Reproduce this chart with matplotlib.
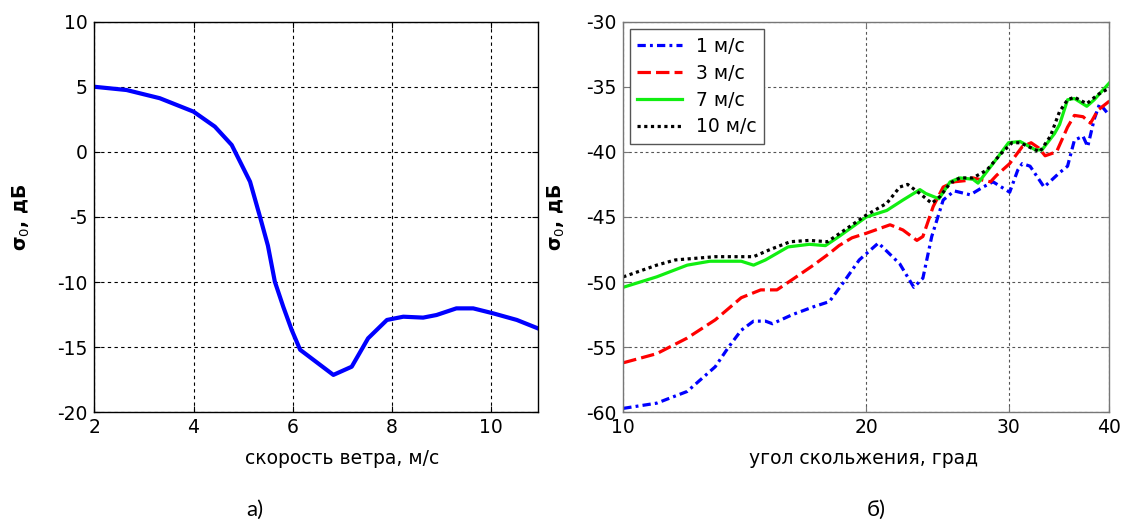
import matplotlib
matplotlib.use("Agg")
import matplotlib.pyplot as plt
from matplotlib.ticker import FixedLocator, NullLocator

plt.rcParams['font.family'] = ['DejaVu Sans']
plt.rcParams['axes.unicode_minus'] = False

# а) зависимость от скорости ветра
wind = [2.0, 2.65, 3.32, 4.0, 4.43, 4.77, 5.14, 5.34, 5.5, 5.64, 5.81, 5.98, 6.15,
        6.82, 7.19, 7.52, 7.9, 8.23, 8.63, 8.9, 9.3, 9.64, 10.04, 10.52, 10.94]
sigma_wind = [5.0, 4.75, 4.12, 3.09, 1.94, 0.53, -2.29, -4.98, -7.2, -9.97, -11.9, -13.68, -15.2,
              -17.13, -16.5, -14.32, -12.91, -12.66, -12.73, -12.53, -12.02, -12.02, -12.4, -12.91, -13.55]

# б) зависимость от угла скольжения
angle_1 = [10, 11, 12, 13, 13.5, 14, 14.5, 15, 15.3, 16.2, 17.2, 18.0, 18.7, 19.6, 20.7, 22.0,
           22.9, 23.5, 24.1, 24.9, 25.7, 26.9, 27.9, 28.7, 30.1, 30.8, 31.2, 31.9, 33.2, 34.7,
           35.5, 36.2, 37.1, 37.6, 38.3, 38.9, 40]
sigma_1 = [-59.7, -59.3, -58.4, -56.5, -55.0, -53.7, -53.0, -53.0, -53.2, -52.5, -51.9, -51.5,
           -50.1, -48.3, -47.0, -48.6, -50.4, -49.7, -46.5, -43.7, -43.0, -43.3, -42.7, -42.3,
           -43.1, -41.4, -40.9, -41.1, -42.7, -41.6, -41.1, -39.1, -38.8, -39.6, -37.5, -36.3, -37.2]

angle_3 = [10, 11, 12, 13, 14, 14.8, 15.5, 16.2, 17.2, 18.0, 18.5, 19.2, 20.0, 21.4, 22.2, 23.1,
           23.5, 24.2, 24.9, 25.7, 26.6, 27.1, 28.5, 29.0, 30.1, 31.2, 32.0, 32.7, 33.3, 34.4,
           35.5, 36.2, 37.1, 37.9, 38.7, 40]
sigma_3 = [-56.2, -55.5, -54.3, -52.9, -51.2, -50.6, -50.6, -49.8, -48.7, -47.8, -47.2, -46.6,
           -46.25, -45.6, -46.0, -46.8, -46.5, -44.2, -42.7, -42.3, -42.2, -42.0, -42.3, -41.8,
           -40.9, -39.6, -39.3, -39.7, -40.3, -40.0, -38.1, -37.2, -37.3, -37.8, -36.8, -36.1]

angle_7 = [10, 11, 12, 12.8, 14, 14.5, 15, 16, 17, 17.8, 18.5, 20.0, 21.2, 22.2, 23.3, 23.7,
           24.6, 25.4, 26.1, 27.1, 27.5, 28.7, 30.0, 31.0, 32.4, 33.0, 34.2, 34.7, 35.5, 36.2,
           37.5, 38.3, 40]
sigma_7 = [-50.4, -49.6, -48.7, -48.4, -48.4, -48.7, -48.3, -47.3, -47.1, -47.2, -46.5, -45.0,
           -44.5, -43.7, -42.9, -43.2, -43.6, -42.3, -42.0, -42.1, -42.4, -40.9, -39.3, -39.2,
           -39.85, -39.85, -38.6, -37.9, -36.0, -35.9, -36.5, -36.0, -34.7]

angle_10 = [10, 11, 11.6, 13, 14.5, 15.2, 16.1, 17.0, 17.9, 18.4, 20.0, 21.2, 22.0, 22.5, 23.3,
            24.1, 24.7, 25.4, 26.1, 27.1, 28.2, 29.3, 30.3, 31.0, 32.4, 32.8, 33.8, 34.7, 35.5,
            36.2, 37.5, 38.7, 40]
sigma_10 = [-49.6, -48.7, -48.3, -48.05, -48.05, -47.5, -46.9, -46.8, -46.9, -46.4, -44.85,
            -43.95, -42.7, -42.5, -43.2, -43.95, -43.4, -42.4, -42.0, -42.0, -41.4, -40.2, -39.3,
            -39.3, -39.85, -40.0, -38.8, -36.9, -36.0, -35.8, -36.3, -35.6, -35.1]

labels = ['1 м/с', '3 м/с', '7 м/с', '10 м/с']

fig = plt.figure(figsize=(11.23, 5.22), dpi=100)
ax1 = fig.add_axes([0.0840, 0.2102, 0.3948, 0.7483])
ax2 = fig.add_axes([0.5550, 0.2102, 0.4329, 0.7483])

fs = 13.5

# --- левый график
ax1.plot(wind, sigma_wind, color='#0000ff', lw=3.0, solid_joinstyle='round')
ax1.set_xlim(2, 10.94)
ax1.set_ylim(-20, 10)
ax1.set_xticks([2, 4, 6, 8, 10])
ax1.set_yticks([-20, -15, -10, -5, 0, 5, 10])
ax1.grid(True, color='black', linestyle=(0, (3, 3)), linewidth=0.8)
for s in ax1.spines.values():
    s.set_color('black')
    s.set_linewidth(1.0)
ax1.tick_params(direction='in', length=4, labelsize=fs, pad=5, top=True, right=True)
ax1.tick_params(axis='x', pad=4)
ax1.set_xlabel('скорость ветра, м/с', fontsize=fs)
ax1.xaxis.set_label_coords(0.56, -0.095)
ax1.set_ylabel('σ$_0$, дБ', fontsize=fs, fontweight='bold')
ax1.yaxis.set_label_coords(-0.14, 0.5)

# --- правый график
ax2.plot(angle_1, sigma_1, color='#0000ff', lw=2.3, linestyle=(0, (2.6, 1.3, 0.9, 1.3)), label=labels[0])
ax2.plot(angle_3, sigma_3, color='#ff0000', lw=2.3, linestyle=(0, (4.2, 1.6)), label=labels[1])
ax2.plot(angle_7, sigma_7, color='#11ee11', lw=2.3, linestyle='-', label=labels[2])
ax2.plot(angle_10, sigma_10, color='black', lw=2.3, linestyle=(0, (1, 1.1)), label=labels[3])
ax2.set_xscale('log')
ax2.set_xlim(10, 40)
ax2.set_ylim(-60, -30)
ax2.xaxis.set_major_locator(FixedLocator([10, 20, 30, 40]))
ax2.xaxis.set_minor_locator(NullLocator())
ax2.set_xticklabels(['10', '20', '30', '40'])
ax2.set_yticks([-60, -55, -50, -45, -40, -35, -30])
ax2.grid(True, color='#555555', linestyle=(0, (2.5, 2.5)), linewidth=0.8)
for s in ax2.spines.values():
    s.set_color('#777777')
    s.set_linewidth(1.0)
ax2.tick_params(direction='in', length=4, labelsize=fs, pad=5, top=True, right=True, color='#777777')
ax2.tick_params(axis='x', pad=4)
ax2.set_xlabel('угол скольжения, град', fontsize=fs)
ax2.xaxis.set_label_coords(0.494, -0.095)
ax2.set_ylabel('σ$_0$, дБ', fontsize=fs, fontweight='bold')
ax2.yaxis.set_label_coords(-0.115, 0.5)

leg = ax2.legend(loc='upper left', bbox_to_anchor=(0.0138, 0.9805), borderaxespad=0,
                 fontsize=fs, handlelength=2.4, labelspacing=0.42, fancybox=False,
                 framealpha=1, edgecolor='#555555', borderpad=0.4, handletextpad=0.7)
leg.get_frame().set_linewidth(1.0)

fig.text(255 / 1123, 1 - 510 / 522, 'а)', fontsize=16, family='Lato', ha='center', va='center')
fig.text(876 / 1123, 1 - 510 / 522, 'б)', fontsize=16, family='Lato', ha='center', va='center')

fig.savefig('out.png', dpi=100)
